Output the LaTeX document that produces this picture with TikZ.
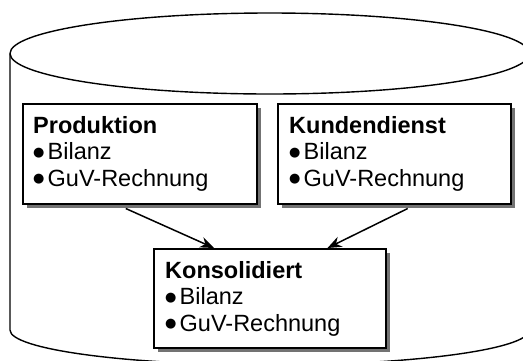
\documentclass[tikz,border=0pt]{standalone}
\usepackage{fontspec}
\setmainfont{Liberation Sans}
\newfontfamily\dejavu{DejaVu Sans}
\usetikzlibrary{arrows.meta,shadows,calc}
\newcommand\bul{\makebox[14.5pt][l]{\raisebox{3.2pt}{\dejavu\fontsize{13}{13}\selectfont ●}}}
\begin{document}
\begin{tikzpicture}[x=1pt,y=-1pt,
  box/.style={draw, fill=white, line width=1.5pt, anchor=north west, inner sep=0pt,
    drop shadow={shadow xshift=4.5pt, shadow yshift=-4.5pt, fill=black!55, opacity=1}},
  txt/.style={anchor=base west, align=left, inner sep=0pt, font=\fontsize{23.5}{26.5}\selectfont},
  arr/.style={-{Stealth[length=14pt,width=11pt]}, line width=1.5pt},
  cyl/.style={line width=1.4pt}]
\useasboundingbox (0,0) rectangle (523,360);
\clip (0,0) rectangle (523,360);
% cylinder
\draw[cyl] (10,53.5) -- (10,330) arc[start angle=180, end angle=0, x radius=259.7, y radius=35] -- (529.4,53.5);
\draw[cyl] (269.7,53.5) ellipse [x radius=259.7, y radius=40.5];
% boxes
\node[box, minimum width=234pt, minimum height=100pt] (pbox) at (22,103) {};
\node[box, minimum width=233pt, minimum height=100pt] (dbox) at (277,103) {};
\node[box, minimum width=232pt, minimum height=99pt] (kbox) at (153,248) {};
% texts (anchored at the baseline of the last line)
\node[txt] (ptxt) at (33,186) {\textbf{Produktion}\\\bul Bilanz\\\bul GuV-Rechnung};
\node[txt] (dtxt) at (289,186) {\textbf{Kundendienst}\\\bul Bilanz\\\bul GuV-Rechnung};
\node[txt] (ktxt) at (165,331) {\textbf{Konsolidiert}\\\bul Bilanz\\\bul GuV-Rechnung};
% arrows
\draw[arr] ($(pbox.south)+(-14,4)$) -- ($(kbox.north west)+(61,0)$);
\draw[arr] ($(dbox.south)+(13.5,4)$) -- ($(kbox.north east)+(-59,0)$);
\end{tikzpicture}
\end{document}
